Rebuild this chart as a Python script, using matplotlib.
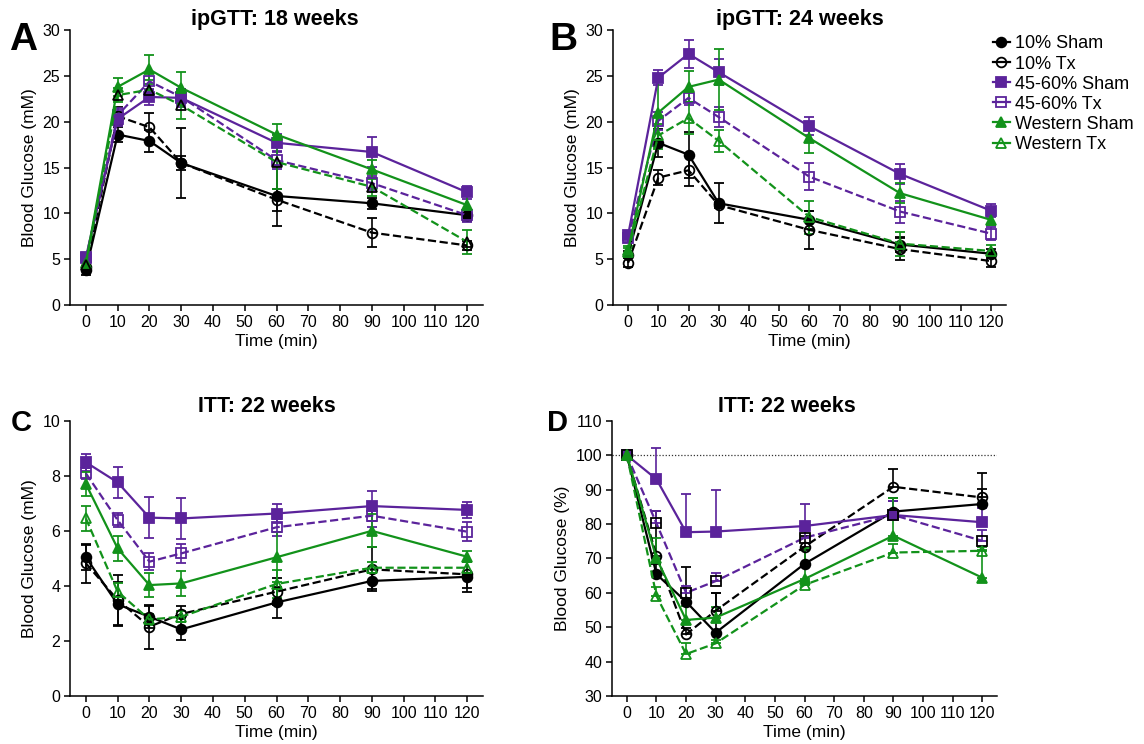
import numpy as np
import matplotlib.pyplot as plt
from matplotlib.lines import Line2D

plt.rcParams['font.family'] = ['Liberation Sans', 'DejaVu Sans']

time = [0, 10, 20, 30, 60, 90, 120]
groups = ['10% Sham', '10% Tx', '45-60% Sham', '45-60% Tx', 'Western Sham', 'Western Tx']

# ipGTT 18 weeks (mM), rows follow groups
gtt18_mean = [
    [3.8, 18.6, 17.9, 15.5, 11.9, 11.1, 9.8],
    [4.2, 20.6, 19.4, 15.5, 11.5, 7.9, 6.5],
    [5.2, 20.3, 22.7, 22.6, 17.7, 16.7, 12.3],
    [5.1, 20.7, 24.4, 22.7, 15.8, 13.3, 9.8],
    [4.6, 23.8, 25.7, 23.7, 18.6, 14.8, 10.9],
    [4.4, 22.9, 23.5, 21.8, 15.6, 12.9, 6.9],
]
gtt18_err = [
    [0.5, 0.8, 1.2, 3.8, 3.3, 0.6, 0.6],
    [0.5, 1.0, 1.5, 0.8, 1.2, 1.6, 0.5],
    [0.4, 0.8, 0.9, 1.0, 1.0, 1.6, 0.7],
    [0.4, 0.8, 0.9, 0.9, 1.0, 0.8, 0.7],
    [0.4, 1.0, 1.6, 1.7, 1.2, 1.0, 1.0],
    [0.4, 0.8, 1.0, 1.5, 2.9, 1.0, 1.3],
]

# ipGTT 24 weeks (mM)
gtt24_mean = [
    [5.5, 17.7, 16.4, 11.1, 9.3, 6.6, 5.6],
    [4.6, 13.9, 14.7, 10.9, 8.2, 6.1, 4.8],
    [7.6, 24.8, 27.4, 25.4, 19.5, 14.3, 10.3],
    [7.3, 20.1, 22.6, 20.5, 14.0, 10.2, 7.8],
    [6.0, 21.0, 23.8, 24.6, 18.2, 12.2, 9.3],
    [5.8, 18.5, 20.4, 17.9, 9.6, 6.7, 5.9],
]
gtt24_err = [
    [0.4, 1.5, 2.5, 2.2, 1.0, 0.8, 0.5],
    [0.5, 0.8, 1.7, 0.3, 2.1, 1.2, 0.6],
    [0.4, 0.8, 1.5, 1.4, 1.0, 1.1, 0.7],
    [0.4, 1.0, 0.8, 1.1, 1.5, 1.2, 0.7],
    [0.4, 4.0, 1.7, 3.3, 1.6, 1.1, 0.6],
    [0.4, 1.3, 1.7, 1.2, 1.8, 1.3, 0.6],
]

# ITT 22 weeks (mM)
itt_mean = [
    [5.04, 3.33, 2.88, 2.42, 3.40, 4.18, 4.33],
    [4.82, 3.49, 2.52, 2.98, 3.79, 4.60, 4.42],
    [8.49, 7.76, 6.48, 6.45, 6.63, 6.90, 6.76],
    [8.09, 6.39, 4.88, 5.18, 6.13, 6.55, 5.97],
    [7.70, 5.36, 4.03, 4.09, 5.04, 6.00, 5.06],
    [6.45, 3.79, 2.78, 2.88, 4.07, 4.66, 4.66],
]
itt_err = [
    [0.45, 0.8, 0.4, 0.4, 0.55, 0.3, 0.55],
    [0.7, 0.9, 0.8, 0.3, 0.5, 0.8, 0.5],
    [0.3, 0.55, 0.75, 0.75, 0.35, 0.55, 0.3],
    [0.2, 0.25, 0.3, 0.35, 0.3, 0.4, 0.35],
    [0.45, 0.45, 0.45, 0.45, 0.9, 0.6, 0.2],
    [0.45, 0.3, 0.2, 0.2, 0.5, 0.2, 0.2],
]

# ITT 22 weeks (% of baseline), upper error only
itt_pct_mean = [
    [100, 65.4, 57.4, 48.4, 68.4, 83.6, 85.8],
    [100, 70.8, 47.9, 54.8, 73.4, 90.8, 87.7],
    [100, 93.0, 77.6, 77.8, 79.4, 82.6, 80.5],
    [100, 80.2, 60.0, 63.4, 76.0, 82.6, 75.1],
    [100, 70.0, 52.1, 52.8, 64.0, 76.6, 64.4],
    [100, 59.1, 42.2, 45.3, 62.3, 71.7, 72.2],
]
itt_pct_err = [
    [0, 3.0, 10.0, 11.6, 4.0, 4.0, 4.5],
    [0, 13.0, 2.0, 5.0, 3.0, 5.3, 7.2],
    [0, 9.0, 11.0, 12.2, 6.4, 4.0, 4.0],
    [0, 3.5, 2.0, 2.3, 2.0, 4.0, 3.0],
    [0, 5.8, 4.0, 3.0, 9.0, 11.0, 8.0],
    [0, 2.5, 3.3, 1.0, 1.0, 2.5, 1.0],
]

black = '#000000'
purple = '#5B239B'
green = '#12921A'
colors = [black, black, purple, purple, green, green]
markers = ['o', 'o', 's', 's', '^', '^']


def draw(ax, mean, err, upper_only=False, edge=None):
    for i, g in enumerate(groups):
        c = colors[i]
        hollow = i % 2 == 1
        mec = c
        if edge and i in edge:
            mec = edge[i]
        e = np.array(err[i])
        yerr = [np.zeros_like(e), e] if upper_only else e
        ax.errorbar(time, mean[i], yerr=yerr, color=c, ls='--' if hollow else '-',
                    lw=1.6, marker=markers[i], ms=7.5 if markers[i] == 's' else 7,
                    mfc='none' if hollow else c, mec=mec, mew=1.3,
                    capsize=3.5, elinewidth=1.2, capthick=1.2)


def style(ax, ylim, yticks, ylabel):
    ax.set_xlim(-5, 125)
    ax.set_ylim(*ylim)
    ax.set_xticks(range(0, 121, 10))
    ax.set_yticks(yticks)
    for s in ['top', 'right']:
        ax.spines[s].set_visible(False)
    for s in ['left', 'bottom']:
        ax.spines[s].set_linewidth(1.1)
    ax.tick_params(direction='out', length=4, width=1.1, labelsize=11.5, pad=3)
    ax.set_xlabel('Time (min)', fontsize=12.5, labelpad=3)
    ax.set_ylabel(ylabel, fontsize=12.5, labelpad=4)


fig = plt.figure(figsize=(11.44, 7.44), dpi=100)
axA = fig.add_axes([0.0612, 0.590, 0.361, 0.3696])
axB = fig.add_axes([0.5358, 0.590, 0.3435, 0.3696])
axC = fig.add_axes([0.0612, 0.0645, 0.361, 0.370])
axD = fig.add_axes([0.5350, 0.0645, 0.3365, 0.370])

draw(axA, gtt18_mean, gtt18_err, edge={5: black})
draw(axB, gtt24_mean, gtt24_err)
draw(axC, itt_mean, itt_err)
axD.axhline(100, color='#333333', lw=0.9, ls=(0, (1, 1.5)), zorder=0)
draw(axD, itt_pct_mean, itt_pct_err, upper_only=True, edge={3: black})

style(axA, (0, 30), range(0, 31, 5), 'Blood Glucose (mM)')
style(axB, (0, 30), range(0, 31, 5), 'Blood Glucose (mM)')
style(axC, (0, 10), range(0, 11, 2), 'Blood Glucose (mM)')
style(axD, (30, 110), range(30, 111, 10), 'Blood Glucose (%)')

tfont = dict(fontsize=15.5, fontweight='bold')
axA.set_title('ipGTT: 18 weeks', x=0.496, pad=3, **tfont)
axB.set_title('ipGTT: 24 weeks', x=0.476, pad=3, **tfont)
axC.set_title('ITT: 22 weeks', x=0.477, pad=6, **tfont)
axD.set_title('ITT: 22 weeks', x=0.455, pad=6, **tfont)

for lab, x, y, fs in [('A', 0.008, 0.970, 28), ('B', 0.480, 0.970, 28),
                      ('C', 0.009, 0.450, 21), ('D', 0.478, 0.450, 21)]:
    fig.text(x, y, lab, fontsize=fs, fontweight='bold', va='top', ha='left')

handles = [Line2D([], [], color=colors[i], lw=1.6, marker=markers[i], ms=7,
                  mfc='none' if i % 2 else colors[i], mec=colors[i], mew=1.3)
           for i in range(len(groups))]
fig.legend(handles, groups, loc='upper left', bbox_to_anchor=(0.862, 0.962),
           frameon=False, fontsize=13, handlelength=0.9, handletextpad=0.3,
           labelspacing=0.17, borderaxespad=0)

fig.savefig('out.png', dpi=100)
